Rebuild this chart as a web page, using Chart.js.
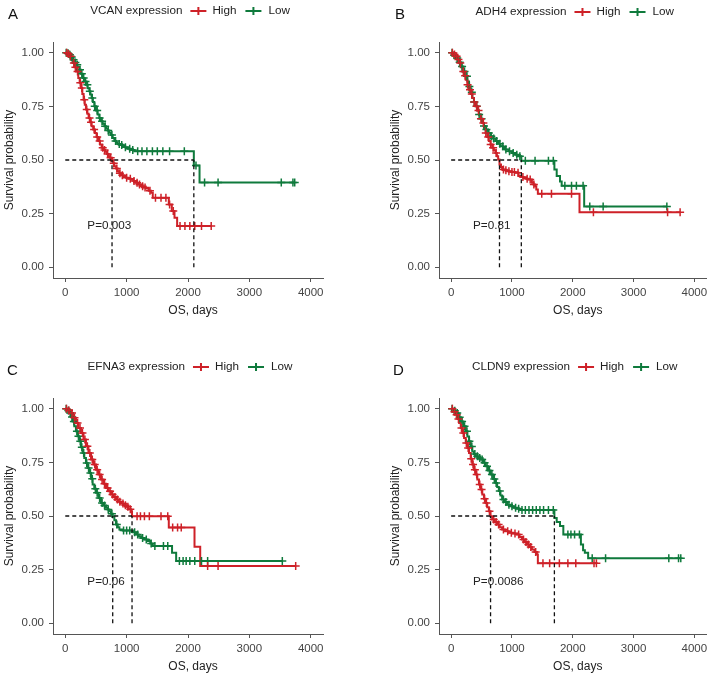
<!DOCTYPE html>
<html>
<head>
<meta charset="utf-8">
<script src="https://cdn.jsdelivr.net/npm/chart.js@4.4.1/dist/chart.umd.min.js"></script>
<style>
  body { margin: 0; background: #fff; }
  .panel { position: absolute; width: 356px; height: 338px; }
</style>
</head>
<body>
<div class="panel" style="left:0;top:0"><canvas id="chartA" width="356" height="338"></canvas></div>
<div class="panel" style="left:356px;top:0"><canvas id="chartB" width="356" height="338"></canvas></div>
<div class="panel" style="left:0;top:338px"><canvas id="chartC" width="356" height="338"></canvas></div>
<div class="panel" style="left:356px;top:338px"><canvas id="chartD" width="356" height="338"></canvas></div>
<script>
// tick labels
const xTicks = [0, 1000, 2000, 3000, 4000];
const yTicks = [0, 0.25, 0.5, 0.75, 1];
const groups = ['High', 'Low'];

// KM curves, [days, survival]
const vcanHigh = [[0,1],[30,.994],[65,.983],[95,.968],[120,.952],[150,.932],[174,.913],[212,.882],[235,.860],[256,.836],[278,.808],[299,.781],[318,.758],[337,.735],[360,.716],[381,.696],[405,.676],[430,.657],[455,.642],[484,.626],[510,.607],[539,.588],[565,.572],[593,.557],[620,.547],[648,.538],[678,.528],[707,.518],[730,.510],[762,.496],[780,.485],[800,.471],[828,.460],[854,.448],[880,.438],[909,.429],[950,.423],[991,.417],[1030,.413],[1072,.409],[1110,.402],[1154,.394],[1195,.386],[1235,.378],[1275,.372],[1317,.367],[1360,.357],[1399,.347],[1426,.324],[1687,.293],[1736,.262],[1780,.231],[1823,.192],[2378,.192]];
const vcanLow = [[0,1],[30,.997],[65,.991],[95,.980],[120,.967],[150,.955],[174,.944],[200,.933],[228,.921],[255,.902],[283,.882],[310,.866],[337,.851],[365,.835],[392,.820],[410,.805],[430,.789],[450,.770],[473,.751],[500,.731],[528,.712],[555,.696],[582,.681],[610,.669],[637,.657],[665,.647],[691,.637],[718,.627],[746,.616],[773,.602],[800,.588],[827,.581],[854,.575],[895,.570],[936,.565],[977,.559],[1018,.553],[1070,.547],[1126,.541],[2095,.474],[2188,.395],[3739,.395]];
const vcanHighCensor = [25,55,85,140,165,200,245,270,310,350,395,420,470,520,560,610,640,690,740,790,840,890,930,1000,1060,1120,1170,1210,1260,1300,1380,1470,1560,1640,1700,1760,1870,1950,2030,2110,2220,2378];
const vcanLowCensor = [15,45,75,105,135,165,195,240,270,300,330,360,400,440,480,520,560,600,650,700,760,820,880,920,980,1050,1100,1180,1250,1330,1420,1500,1590,1700,1940,2130,2270,2490,3520,3710,3739];

const adh4High = [[0,1],[40,.992],[76,.983],[105,.968],[131,.952],[158,.932],[185,.913],[212,.893],[240,.874],[267,.851],[294,.828],[321,.808],[348,.789],[375,.770],[403,.751],[430,.731],[457,.712],[485,.692],[512,.673],[539,.650],[566,.626],[593,.607],[620,.588],[648,.572],[675,.557],[702,.545],[729,.533],[752,.518],[773,.502],[795,.479],[820,.467],[838,.456],[880,.452],[920,.448],[990,.444],[1056,.440],[1110,.425],[1150,.421],[1192,.417],[1233,.413],[1273,.409],[1328,.394],[1355,.386],[1382,.378],[1400,.363],[1426,.343],[2111,.256],[3766,.256]];
const adh4Low = [[0,1],[40,.988],[76,.975],[118,.956],[158,.936],[200,.913],[240,.890],[267,.866],[294,.843],[321,.816],[348,.789],[375,.770],[403,.751],[430,.731],[457,.712],[485,.692],[512,.673],[539,.658],[566,.642],[607,.626],[648,.611],[690,.600],[729,.588],[770,.576],[811,.564],[852,.556],[893,.549],[947,.541],[1001,.533],[1056,.525],[1110,.518],[1154,.497],[1698,.456],[1736,.425],[1790,.400],[1818,.380],[2188,.283],[3548,.283]];
const adh4HighCensor = [20,55,90,120,150,200,230,270,310,340,380,420,450,490,530,570,610,650,690,740,860,900,950,1000,1040,1100,1180,1250,1300,1360,1490,1650,1980,2340,3560,3766];
const adh4LowCensor = [15,50,100,140,180,220,260,300,340,380,420,460,500,540,580,620,660,700,750,800,850,900,960,1020,1080,1130,1220,1380,1600,1680,1870,1980,2060,2170,2280,2500,3548];

const efna3High = [[0,1],[45,.992],[93,.980],[130,.958],[174,.933],[215,.910],[256,.887],[297,.856],[337,.825],[378,.794],[420,.763],[460,.740],[501,.716],[541,.693],[582,.670],[623,.650],[664,.631],[705,.615],[746,.600],[786,.588],[827,.577],[868,.567],[909,.558],[950,.550],[991,.543],[1030,.532],[1072,.522],[1088,.499],[1687,.446],[2106,.357],[2199,.267],[3755,.267]];
const efna3Low = [[0,1],[30,.992],[65,.980],[92,.961],[120,.941],[147,.918],[174,.895],[200,.872],[228,.848],[255,.821],[283,.794],[310,.770],[337,.747],[365,.724],[392,.701],[420,.674],[446,.647],[473,.627],[501,.608],[540,.584],[582,.561],[623,.549],[664,.538],[690,.530],[718,.522],[745,.511],[773,.499],[800,.480],[827,.460],[855,.448],[882,.437],[936,.432],[1100,.424],[1154,.414],[1195,.406],[1235,.398],[1290,.390],[1344,.383],[1385,.372],[1426,.360],[1740,.329],[1807,.290],[3537,.290]];
const efna3HighCensor = [20,60,110,150,200,240,280,320,360,400,440,480,520,560,600,640,690,730,770,810,850,890,940,980,1020,1060,1170,1225,1290,1370,1560,1670,1750,1830,1890,2320,2490,3755];
const efna3LowCensor = [15,50,80,110,140,190,215,245,270,300,350,380,410,440,490,520,560,600,640,700,760,840,950,1000,1050,1130,1180,1260,1320,1400,1460,1600,1670,1860,1920,1970,2030,2110,2220,2320,3537];

const cldn9High = [[0,1],[40,.986],[76,.972],[105,.952],[131,.933],[158,.910],[185,.887],[212,.863],[240,.840],[267,.817],[294,.794],[321,.767],[348,.740],[375,.716],[403,.693],[430,.670],[457,.647],[485,.623],[512,.600],[539,.580],[566,.561],[593,.541],[620,.522],[648,.499],[675,.484],[716,.472],[757,.460],[798,.448],[838,.437],[890,.429],[947,.422],[1015,.418],[1083,.414],[1125,.402],[1165,.391],[1205,.379],[1246,.367],[1287,.355],[1328,.344],[1370,.332],[1410,.321],[1426,.280],[2389,.280]];
const cldn9Low = [[0,1],[40,.990],[76,.980],[118,.960],[158,.941],[200,.918],[240,.895],[267,.871],[294,.848],[321,.824],[348,.801],[375,.789],[403,.778],[445,.770],[484,.763],[525,.748],[566,.732],[607,.712],[648,.693],[690,.673],[729,.654],[757,.635],[784,.616],[811,.596],[838,.577],[880,.565],[920,.553],[975,.545],[1029,.538],[1085,.534],[1137,.528],[1698,.491],[1736,.472],[1790,.453],[1845,.414],[2134,.367],[2170,.340],[2199,.329],[2253,.303],[3777,.303]];
const cldn9HighCensor = [20,55,90,120,170,200,250,280,330,360,390,420,470,500,550,580,630,700,740,780,860,930,990,1050,1110,1190,1230,1270,1310,1390,1510,1620,1780,1920,2050,2350,2389];
const cldn9LowCensor = [15,60,100,140,180,220,260,300,340,390,430,470,510,550,590,630,670,710,740,800,860,900,950,1000,1060,1110,1165,1220,1280,1340,1400,1460,1520,1600,1680,1920,1970,2030,2110,2320,2540,3580,3740,3777];

const RED = '#CE2128';
const GREEN = '#0F7A3C';
const FONT = '"Liberation Sans", Arial, Helvetica, sans-serif';

// value of the step curve at time t
const survAt = (curve, t) => {
    let s = curve[0][1];
    curve.forEach(p => { if (p[0] <= t) s = p[1]; });
    return s;
};

// first time the curve reaches 0.5 or below
const medianOf = (curve) => {
    const hit = curve.find(p => p[1] <= 0.5);
    return hit ? hit[0] : null;
};

const panels = [
    { id: 'chartA', letter: 'A', gene: 'VCAN', pText: 'P=0.003', curves: [vcanHigh, vcanLow], censors: [vcanHighCensor, vcanLowCensor],
      area: { left: 53, top: 42, right: 323, bottom: 278 }, letterX: 8, letterY: 15, headerY: 11 },
    { id: 'chartB', letter: 'B', gene: 'ADH4', pText: 'P=0.81', curves: [adh4High, adh4Low], censors: [adh4HighCensor, adh4LowCensor],
      area: { left: 83, top: 42, right: 353, bottom: 278 }, letterX: 39, letterY: 15, headerY: 12 },
    { id: 'chartC', letter: 'C', gene: 'EFNA3', pText: 'P=0.06', curves: [efna3High, efna3Low], censors: [efna3HighCensor, efna3LowCensor],
      area: { left: 53, top: 60, right: 323, bottom: 296 }, letterX: 7, letterY: 33, headerY: 29 },
    { id: 'chartD', letter: 'D', gene: 'CLDN9', pText: 'P=0.0086', curves: [cldn9High, cldn9Low], censors: [cldn9HighCensor, cldn9LowCensor],
      area: { left: 83, top: 60, right: 353, bottom: 296 }, letterX: 37, letterY: 33, headerY: 29 }
];

const drawLegendKey = (ctx, x, y, color) => {
    ctx.save();
    ctx.strokeStyle = color;
    ctx.lineWidth = 2;
    ctx.beginPath();
    ctx.moveTo(x, y); ctx.lineTo(x + 16, y);
    ctx.moveTo(x + 8, y - 4); ctx.lineTo(x + 8, y + 4);
    ctx.stroke();
    ctx.restore();
};

// letters, header legend, p-value and axis titles
const textPlugin = {
    id: 'kmText',
    afterDraw(chart, args, opts) {
        const p = opts.panel;
        const ctx = chart.ctx;
        const ca = chart.chartArea;
        const xs = chart.scales.x, ys = chart.scales.y;
        ctx.save();
        ctx.textBaseline = 'middle';
        ctx.fillStyle = '#111';
        ctx.font = '15px ' + FONT;
        ctx.textAlign = 'left';
        ctx.fillText(p.letter, p.letterX, p.letterY);

        // header legend
        ctx.font = '11.7px ' + FONT;
        ctx.fillStyle = '#222';
        const title = p.gene + ' expression';
        const wT = ctx.measureText(title).width;
        const wH = ctx.measureText(groups[0]).width;
        const wL = ctx.measureText(groups[1]).width;
        const total = wT + 8 + 16 + 6 + wH + 9 + 16 + 7 + wL;
        let x = (ca.left + ca.right) / 2 + 2 - total / 2;
        const y = p.headerY;
        ctx.fillText(title, x, y); x += wT + 8;
        drawLegendKey(ctx, x, y, RED); x += 16 + 6;
        ctx.fillText(groups[0], x, y); x += wH + 9;
        drawLegendKey(ctx, x, y, GREEN); x += 16 + 7;
        ctx.fillText(groups[1], x, y);

        // p value
        ctx.fillStyle = '#222';
        ctx.fillText(p.pText, xs.getPixelForValue(360), ys.getPixelForValue(0.195));

        // axis titles
        ctx.font = '12px ' + FONT;
        ctx.textAlign = 'center';
        ctx.fillText('OS, days', (ca.left + ca.right) / 2 + 5, ca.bottom + 33);
        ctx.translate(ca.left - 43, (ca.top + ca.bottom) / 2);
        ctx.rotate(-Math.PI / 2);
        ctx.fillText('Survival probability', 0, 0);
        ctx.restore();
    }
};

const buildChart = (p) => {
    const colors = [RED, GREEN];
    const medians = p.curves.map(medianOf);
    const datasets = [];

    // dashed median lines on top
    const dash = { borderColor: '#111', borderWidth: 1.3, borderDash: [4, 3], pointRadius: 0, order: 0, fill: false };
    datasets.push({ ...dash, data: [{ x: 0, y: 0.5 }, { x: Math.max(...medians), y: 0.5 }] });
    medians.forEach(m => datasets.push({ ...dash, data: [{ x: m, y: 0 }, { x: m, y: 0.5 }] }));

    p.censors.forEach((times, i) => {
        datasets.push({
            label: groups[i] + ' censored',
            data: times.map(t => ({ x: t, y: survAt(p.curves[i], t) })),
            showLine: false,
            pointStyle: 'cross',
            pointRadius: 4,
            pointBorderWidth: 1.5,
            pointBorderColor: colors[i],
            order: 1
        });
    });

    p.curves.forEach((curve, i) => {
        datasets.push({
            label: groups[i],
            data: curve.map(pt => ({ x: pt[0], y: pt[1] })),
            stepped: 'before',
            borderColor: colors[i],
            borderWidth: 2,
            pointRadius: 0,
            fill: false,
            order: 2
        });
    });

    const tickFont = { family: FONT, size: 11.5 };
    new Chart(document.getElementById(p.id), {
        type: 'line',
        data: { datasets },
        options: {
            responsive: false,
            animation: false,
            devicePixelRatio: 1,
            layout: { padding: { top: p.area.top, right: 356 - p.area.right, left: 0, bottom: 0 } },
            plugins: {
                legend: { display: false },
                tooltip: { enabled: false },
                kmText: { panel: p }
            },
            scales: {
                x: {
                    type: 'linear',
                    min: -200,
                    max: 4200,
                    afterBuildTicks: (s) => { s.ticks = xTicks.map(v => ({ value: v })); },
                    afterFit: (s) => { s.height = 338 - p.area.bottom; },
                    ticks: { font: tickFont, color: '#444', padding: 4, maxRotation: 0, callback: (v) => String(v) },
                    grid: { drawOnChartArea: false, tickLength: 4, color: '#555' },
                    border: { color: '#555', width: 1 }
                },
                y: {
                    type: 'linear',
                    min: -0.05,
                    max: 1.05,
                    afterBuildTicks: (s) => { s.ticks = yTicks.map(v => ({ value: v })); },
                    afterFit: (s) => { s.width = p.area.left; },
                    ticks: { font: tickFont, color: '#444', padding: 5, callback: (v) => Number(v).toFixed(2) },
                    grid: { drawOnChartArea: false, tickLength: 4, color: '#555' },
                    border: { color: '#555', width: 1 }
                }
            }
        },
        plugins: [textPlugin]
    });
};

panels.forEach(buildChart);
</script>
</body>
</html>
